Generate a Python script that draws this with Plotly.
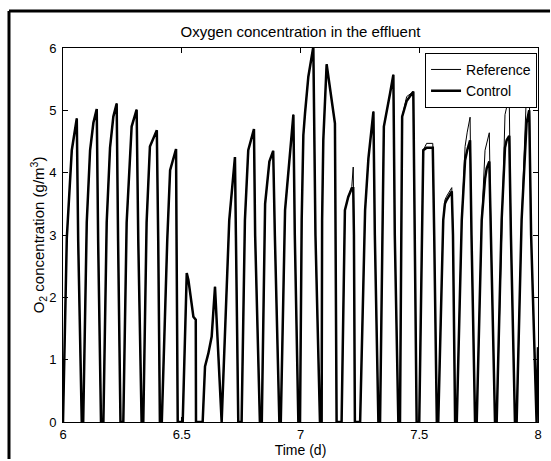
import plotly.graph_objects as go

# Dissolved oxygen in the effluent, days 6-8 (g/m^3)
time_d = [
    6.000, 6.007, 6.016, 6.037, 6.058, 6.064, 6.079,
    6.085, 6.100, 6.114, 6.128, 6.142, 6.148, 6.160,
    6.170, 6.184, 6.198, 6.212, 6.226, 6.232, 6.242,
    6.254, 6.268, 6.289, 6.310, 6.317, 6.331,
    6.338, 6.352, 6.366, 6.395, 6.401, 6.408,
    6.416, 6.439, 6.451, 6.476, 6.478, 6.483,
    6.504, 6.521, 6.528, 6.538, 6.549, 6.559, 6.560,
    6.588, 6.598, 6.612, 6.626, 6.640, 6.668,
    6.700, 6.724, 6.728, 6.738,
    6.752, 6.766, 6.780, 6.804, 6.809, 6.829,
    6.837, 6.851, 6.869, 6.885, 6.892, 6.911,
    6.917, 6.935, 6.970, 6.976, 6.991,
    6.998, 7.005, 7.012, 7.019, 7.033, 7.054, 7.063, 7.082,
    7.089, 7.091, 7.096, 7.110, 7.145, 7.152,
    7.173, 7.187, 7.201, 7.216, 7.222, 7.225, 7.229,
    7.251, 7.272, 7.286, 7.307, 7.313, 7.328,
    7.335, 7.345, 7.351, 7.377, 7.391, 7.397, 7.412,
    7.419, 7.424, 7.428, 7.447, 7.475, 7.481, 7.489,
    7.500, 7.514, 7.517, 7.531, 7.557, 7.563, 7.574,
    7.580, 7.601, 7.608, 7.615, 7.637, 7.642, 7.651,
    7.658, 7.679, 7.693, 7.702, 7.714, 7.720, 7.735,
    7.742, 7.763, 7.777, 7.784, 7.795, 7.802, 7.819,
    7.826, 7.847, 7.861, 7.868, 7.879, 7.886, 7.903,
    7.910, 7.931, 7.952, 7.963, 7.971, 7.994,
    8.000,
]

reference_o2 = [
    0.00, 1.20, 2.95, 4.36, 4.87, 2.90, 0.00,
    0.00, 3.20, 4.36, 4.80, 5.02, 2.90, 0.00,
    0.00, 3.20, 4.40, 4.90, 5.11, 2.90, 0.00,
    0.00, 3.20, 4.74, 5.01, 2.90, 0.00,
    0.00, 3.20, 4.42, 4.68, 2.90, 0.00,
    0.00, 2.92, 4.04, 4.38, 3.00, 0.00,
    0.00, 2.39, 2.28, 1.96, 1.69, 1.64, 0.00,
    0.00, 0.89, 1.10, 1.37, 2.17, 0.00,
    3.24, 4.25, 3.00, 0.00,
    0.00, 3.24, 4.36, 4.70, 3.00, 0.00,
    0.00, 3.50, 4.18, 4.35, 3.00, 0.00,
    0.00, 3.40, 4.93, 3.00, 0.00,
    0.00, 3.24, 4.60, 4.95, 5.54, 6.02, 3.00, 0.00,
    0.00, 3.24, 4.52, 5.74, 4.79, 0.00,
    0.00, 3.40, 3.61, 3.78, 4.09, 3.00, 0.00,
    0.00, 3.40, 4.23, 4.98, 3.00, 0.00,
    0.00, 3.24, 4.74, 5.27, 5.57, 3.00, 0.00,
    0.00, 3.24, 4.90, 5.22, 5.30, 3.00, 0.00,
    0.00, 3.24, 4.36, 4.47, 4.47, 3.00, 0.00,
    0.00, 3.24, 3.56, 3.62, 3.76, 3.00, 0.00,
    0.00, 3.24, 4.42, 4.65, 4.89, 3.00, 0.00,
    0.00, 3.24, 4.36, 4.48, 4.64, 3.00, 0.00,
    0.00, 3.24, 4.93, 5.05, 5.17, 3.00, 0.00,
    0.00, 3.24, 5.33, 5.45, 3.00, 0.00,
    1.20,
]

control_o2 = [
    0.00, 1.20, 2.95, 4.36, 4.87, 2.90, 0.00,
    0.00, 3.20, 4.36, 4.80, 5.02, 2.90, 0.00,
    0.00, 3.20, 4.40, 4.90, 5.11, 2.90, 0.00,
    0.00, 3.20, 4.74, 5.01, 2.90, 0.00,
    0.00, 3.20, 4.42, 4.68, 2.90, 0.00,
    0.00, 2.92, 4.04, 4.38, 3.00, 0.00,
    0.00, 2.39, 2.28, 1.96, 1.69, 1.64, 0.00,
    0.00, 0.89, 1.10, 1.37, 2.17, 0.00,
    3.24, 4.25, 3.00, 0.00,
    0.00, 3.24, 4.36, 4.70, 3.00, 0.00,
    0.00, 3.50, 4.18, 4.35, 3.00, 0.00,
    0.00, 3.40, 4.93, 3.00, 0.00,
    0.00, 3.24, 4.60, 4.95, 5.54, 6.02, 3.00, 0.00,
    0.00, 3.24, 4.52, 5.74, 4.79, 0.00,
    0.00, 3.40, 3.61, 3.75, 3.75, 3.00, 0.00,
    0.00, 3.40, 4.23, 4.98, 3.00, 0.00,
    0.00, 3.24, 4.74, 5.27, 5.57, 3.00, 0.00,
    0.00, 3.24, 4.90, 5.15, 5.30, 3.00, 0.00,
    0.00, 3.24, 4.36, 4.40, 4.40, 3.00, 0.00,
    0.00, 3.24, 3.50, 3.56, 3.70, 3.00, 0.00,
    0.00, 3.24, 4.20, 4.36, 4.52, 3.00, 0.00,
    0.00, 3.24, 3.90, 4.07, 4.18, 3.00, 0.00,
    0.00, 3.24, 4.40, 4.52, 4.59, 3.00, 0.00,
    0.00, 3.24, 4.80, 5.00, 3.00, 0.00,
    1.20,
]

x_ticks = [6, 6.5, 7, 7.5, 8]
x_tick_text = ["6", "6.5", "7", "7.5", "8"]
y_ticks = [0, 1, 2, 3, 4, 5, 6]

FONT = "Liberation Sans, Arial, Helvetica, sans-serif"

fig = go.Figure()
fig.add_trace(go.Scatter(x=time_d, y=reference_o2, mode="lines", name="Reference",
                         line=dict(color="black", width=1)))
fig.add_trace(go.Scatter(x=time_d, y=control_o2, mode="lines", name="Control",
                         line=dict(color="black", width=2.5)))

# frame around the figure: left and top edges of the surrounding box
frame = dict(color="black", width=3)
fig.add_shape(type="line", xref="paper", yref="paper",
              x0=-0.1137, x1=-0.1137, y0=-0.0989, y1=1.0989, line=frame)
fig.add_shape(type="line", xref="paper", yref="paper",
              x0=-0.1137, x1=1.0253, y0=1.0989, y1=1.0989, line=frame)

fig.update_layout(
    width=551, height=461,
    margin=dict(l=63, r=13, t=48, b=39, autoexpand=False),
    paper_bgcolor="white", plot_bgcolor="white",
    font=dict(family=FONT, size=13, color="black"),
    title=dict(text="Oxygen concentration in the effluent", x=0.5, xref="paper",
               xanchor="center", y=1.0 - 32 / 461, yanchor="middle",
               font=dict(size=15)),
    showlegend=True,
    legend=dict(x=0.998, y=0.987, xanchor="right", yanchor="top",
                bgcolor="white", bordercolor="black", borderwidth=1,
                font=dict(size=14), tracegroupgap=0, itemwidth=30),
)
fig.update_xaxes(range=[6, 8], tickvals=x_ticks, ticktext=x_tick_text,
                 ticks="inside", ticklen=5, tickcolor="black", showline=True,
                 linecolor="black", linewidth=1, mirror="ticks", showgrid=False,
                 zeroline=False, automargin=True, tickfont=dict(size=13),
                 title=dict(text="Time (d)", standoff=0, font=dict(size=14)))
fig.update_yaxes(range=[0, 6], tickvals=y_ticks,
                 ticks="inside", ticklen=5, tickcolor="black", showline=True,
                 linecolor="black", linewidth=1, mirror="ticks", showgrid=False,
                 zeroline=False, automargin=True, ticklabelstandoff=3,
                 tickfont=dict(size=13),
                 title=dict(text="O<sub>2</sub> concentration (g/m<sup>3</sup>)",
                            standoff=0, font=dict(size=15)))

# static page: no mode bar, no scrollbars, no body margin around the figure
fig.write_html("out.html",
               config={"displayModeBar": False, "staticPlot": True},
               post_script="document.body.style.margin='0';"
                           "document.body.style.overflow='hidden';"
                           "document.documentElement.style.overflow='hidden';")
